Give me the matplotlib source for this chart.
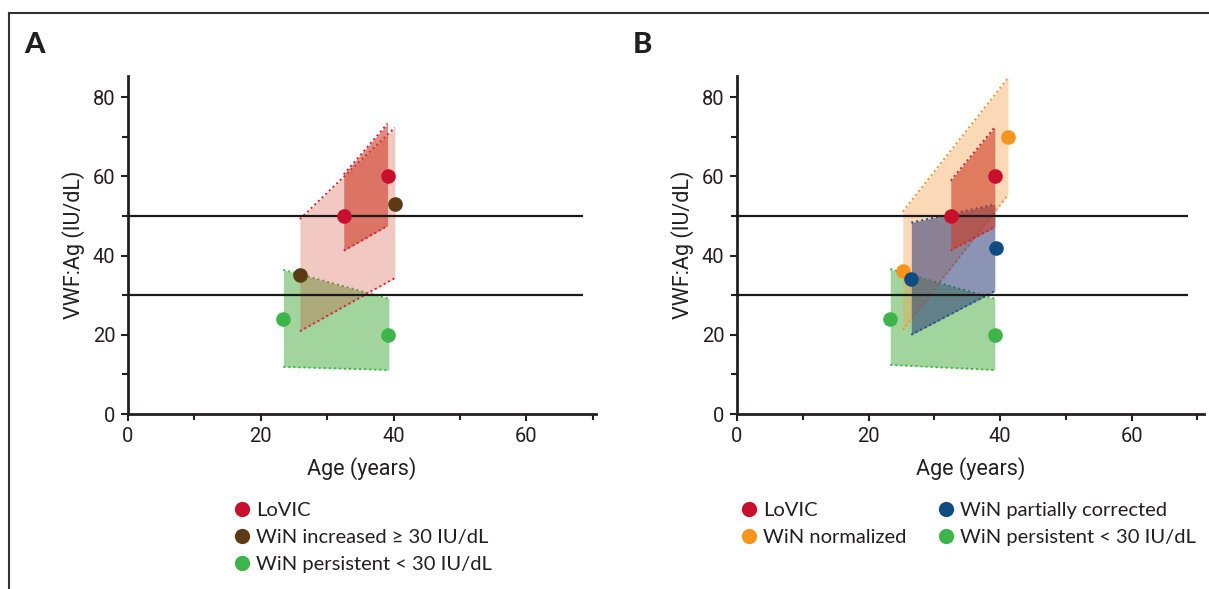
import matplotlib
matplotlib.use("Agg")
import matplotlib.pyplot as plt
from matplotlib.lines import Line2D
from matplotlib.ticker import MultipleLocator

# ---------------- data ----------------
# Panel A points (age, VWF:Ag)
a_lovic_age = [32.5, 39.1]
a_lovic_vwf = [50, 60]
a_incr_age = [25.9, 40.2]
a_incr_vwf = [35, 53]
a_pers_age = [23.4, 39.2]
a_pers_vwf = [24, 20]

# Panel A bands (age ends, lower edge, upper edge)
a_lovic_band_age = [32.5, 39.1]
a_lovic_band_lo = [41.2, 47.5]
a_lovic_band_hi = [60.5, 73.3]
a_incr_band_age = [25.9, 40.2]
a_incr_band_lo = [20.9, 34.3]
a_incr_band_hi = [49.2, 72.3]
a_pers_band_age = [23.4, 39.3]
a_pers_band_lo = [11.9, 11.1]
a_pers_band_hi = [36.4, 29.1]

# Panel B points
b_lovic_age = [32.5, 39.2]
b_lovic_vwf = [50, 60]
b_norm_age = [25.2, 41.2]
b_norm_vwf = [36, 70]
b_part_age = [26.5, 39.4]
b_part_vwf = [34, 42]
b_pers_age = [23.3, 39.2]
b_pers_vwf = [24, 20]

# Panel B bands
b_lovic_band_age = [32.5, 39.2]
b_lovic_band_lo = [41.3, 47.2]
b_lovic_band_hi = [58.9, 72.4]
b_norm_band_age = [25.2, 41.2]
b_norm_band_lo = [21.2, 55.3]
b_norm_band_hi = [51.1, 84.8]
b_part_band_age = [26.5, 39.2]
b_part_band_lo = [20.0, 31.0]
b_part_band_hi = [48.3, 52.9]
b_pers_band_age = [23.3, 39.2]
b_pers_band_lo = [12.4, 11.1]
b_pers_band_hi = [36.6, 29.1]

thresholds = [30, 50]
x_ticks = [0, 20, 40, 60]
y_ticks = [0, 20, 40, 60, 80]

# ---------------- style ----------------
C_LOVIC = "#c8102e"
C_BROWN = "#5b3a14"
C_GREEN = "#3db54a"
C_ORANGE = "#f7941d"
C_BLUE = "#0f4c81"

FILL_RED = (205/255, 60/255, 38/255)
FILL_GREEN = (70/255, 170/255, 60/255)
FILL_ORANGE = (247/255, 162/255, 74/255)
FILL_BLUE = (45/255, 60/255, 120/255)

DOT_RED = "#d0213a"
DOT_GREEN = "#3cb44b"
DOT_ORANGE = "#f39232"
DOT_BLUE = "#1f4e8c"

TXT = "#231f20"
TICK_FONT = ["Roboto", "DejaVu Sans"]
LEG_FONT = ["Lato", "DejaVu Sans"]

fig = plt.figure(figsize=(12.09, 5.89), dpi=100)
W, H = 1209, 589


def band(ax, age, lo, hi, fill, alpha, dot, z):
    ax.fill_between(age, lo, hi, color=fill, alpha=alpha, linewidth=0, zorder=z)
    ax.plot(age, lo, linestyle=(0, (1, 1.6)), color=dot, lw=1.4, zorder=z + 0.1)
    ax.plot(age, hi, linestyle=(0, (1, 1.6)), color=dot, lw=1.4, zorder=z + 0.1)


def style_axes(ax, xmax):
    ax.set_xlim(0, xmax)
    ax.set_ylim(0, 85.3)
    for s in ["top", "right"]:
        ax.spines[s].set_visible(False)
    for s in ["left", "bottom"]:
        ax.spines[s].set_linewidth(2)
        ax.spines[s].set_color(TXT)
    ax.set_xticks(x_ticks)
    ax.set_yticks(y_ticks)
    ax.xaxis.set_minor_locator(MultipleLocator(10))
    ax.yaxis.set_minor_locator(MultipleLocator(10))
    ax.tick_params(which="both", direction="out", length=5, width=1.5, color=TXT,
                   labelsize=14.5, labelcolor=TXT, pad=4)
    ax.tick_params(which="minor", length=4)
    for lab in ax.get_xticklabels() + ax.get_yticklabels():
        lab.set_family(TICK_FONT)
    ax.set_xlabel("Age (years)", fontsize=15.5, family=TICK_FONT, color=TXT, labelpad=8)
    ax.set_ylabel("VWF:Ag (IU/dL)", fontsize=15.5, family=TICK_FONT, color=TXT, labelpad=6)
    ax.hlines(thresholds, 0, 68.6, color="#1a1a1a", lw=1.6, zorder=5)


def pts(ax, x, y, c):
    ax.plot(x, y, "o", color=c, markersize=10.5, markeredgewidth=0, zorder=10)


# ---------------- Panel A ----------------
axA = fig.add_axes([128 / W, 1 - 414 / H, (596 - 128) / W, (414 - 76) / H])
band(axA, a_pers_band_age, a_pers_band_lo, a_pers_band_hi, FILL_GREEN, 0.5, DOT_GREEN, 1)
band(axA, a_incr_band_age, a_incr_band_lo, a_incr_band_hi, FILL_RED, 0.28, DOT_RED, 2)
band(axA, a_lovic_band_age, a_lovic_band_lo, a_lovic_band_hi, FILL_RED, 0.6, DOT_RED, 3)
pts(axA, a_lovic_age, a_lovic_vwf, C_LOVIC)
pts(axA, a_incr_age, a_incr_vwf, C_BROWN)
pts(axA, a_pers_age, a_pers_vwf, C_GREEN)
style_axes(axA, 70.5)

leg_kw = dict(frameon=False, prop={"family": LEG_FONT, "size": 14.5}, handletextpad=0.15,
              labelspacing=0.48, handlelength=1.1, borderaxespad=0, borderpad=0)

hA = [Line2D([], [], marker="o", ls="", color=c, markersize=11, markeredgewidth=0)
      for c in [C_LOVIC, C_BROWN, C_GREEN]]
legA = fig.legend(hA, ["LoVIC", "WiN increased \u2265 30 IU/dL", "WiN persistent < 30 IU/dL"],
                  loc="upper left", bbox_to_anchor=(231 / W, 1 - 502 / H), **leg_kw)
for t in legA.get_texts():
    t.set_color(TXT)

# ---------------- Panel B ----------------
axB = fig.add_axes([737 / W, 1 - 414 / H, (1204 - 737) / W, (414 - 76) / H])
band(axB, b_pers_band_age, b_pers_band_lo, b_pers_band_hi, FILL_GREEN, 0.5, DOT_GREEN, 1)
band(axB, b_norm_band_age, b_norm_band_lo, b_norm_band_hi, FILL_ORANGE, 0.4, DOT_ORANGE, 2)
band(axB, b_part_band_age, b_part_band_lo, b_part_band_hi, FILL_BLUE, 0.55, DOT_BLUE, 3)
band(axB, b_lovic_band_age, b_lovic_band_lo, b_lovic_band_hi, FILL_RED, 0.6, DOT_RED, 4)
pts(axB, b_lovic_age, b_lovic_vwf, C_LOVIC)
pts(axB, b_norm_age, b_norm_vwf, C_ORANGE)
pts(axB, b_part_age, b_part_vwf, C_BLUE)
pts(axB, b_pers_age, b_pers_vwf, C_GREEN)
style_axes(axB, 71)

hB = [Line2D([], [], marker="o", ls="", color=c, markersize=11, markeredgewidth=0)
      for c in [C_LOVIC, C_ORANGE, C_BLUE, C_GREEN]]
legB = fig.legend(hB, ["LoVIC", "WiN normalized", "WiN partially corrected",
                       "WiN persistent < 30 IU/dL"],
                  loc="upper left", bbox_to_anchor=(738 / W, 1 - 502 / H),
                  ncol=2, columnspacing=1.4, **leg_kw)
for t in legB.get_texts():
    t.set_color(TXT)

# ---------------- frame & panel labels ----------------
fig.add_artist(Line2D([9 / W, 9 / W], [0, 1 - 13 / H], transform=fig.transFigure,
                      color="#333333", lw=1.5))
fig.add_artist(Line2D([9 / W, 1], [1 - 13 / H, 1 - 13 / H], transform=fig.transFigure,
                      color="#333333", lw=1.5))
fig.text(24 / W, 1 - 45 / H, "A", fontsize=21, fontweight="black", family=LEG_FONT,
         color=TXT, va="center", ha="left")
fig.text(633 / W, 1 - 45 / H, "B", fontsize=21, fontweight="black", family=LEG_FONT,
         color=TXT, va="center", ha="left")

fig.savefig("out.png", dpi=100)
